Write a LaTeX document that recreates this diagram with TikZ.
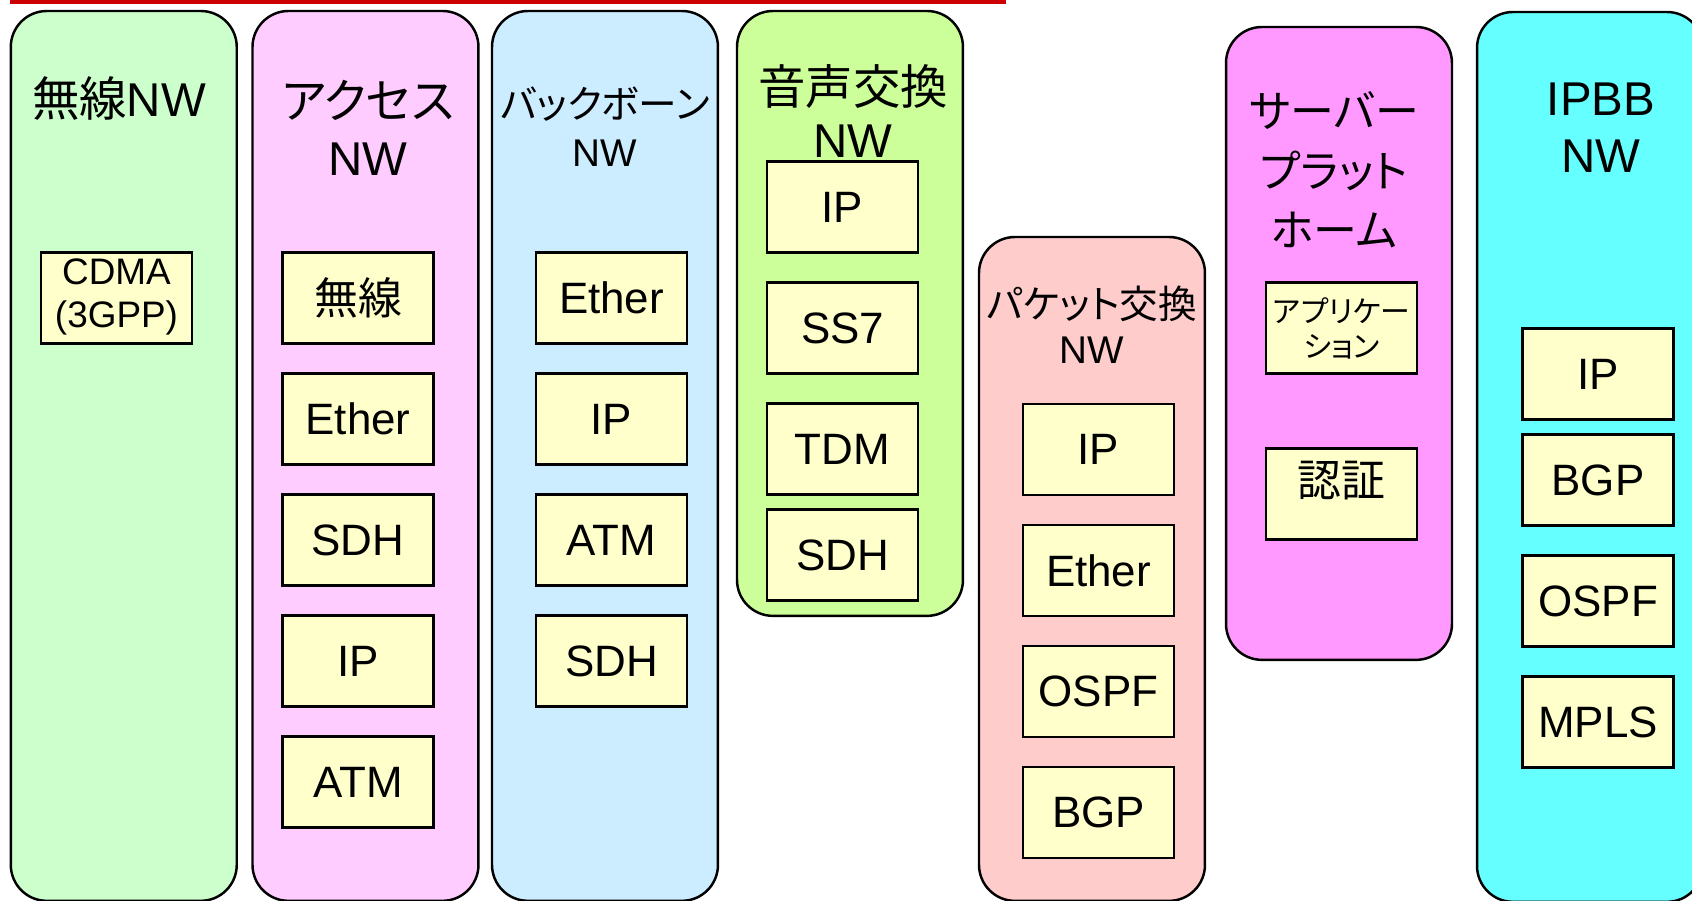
\documentclass[tikz,border=0pt]{standalone}
\usepackage{fontspec}
\setmainfont{Liberation Sans}
\newfontfamily\jp[RawFeature=+palt]{Noto Sans CJK JP}
\usetikzlibrary{positioning}

\definecolor{cRed}{HTML}{CC0000}
\definecolor{cBox}{HTML}{FFFFCC}
\definecolor{cWireless}{HTML}{CCFFCC}
\definecolor{cAccess}{HTML}{FFCCFF}
\definecolor{cBackbone}{HTML}{CCECFF}
\definecolor{cVoice}{HTML}{CCFF99}
\definecolor{cPacket}{HTML}{FFCCCC}
\definecolor{cServer}{HTML}{FF99FF}
\definecolor{cIpbb}{HTML}{66FFFF}

\begin{document}
\begin{tikzpicture}[
    x=0.02cm, y=-0.02cm,
    node distance=0.6cm,
    col/.style={draw=black, line width=1.4pt, rounded corners=0.72cm, minimum width=4.52cm, anchor=north west, inner sep=0pt, outer sep=0pt},
    lyr/.style={draw=black, line width=1.4pt, fill=cBox, minimum width=3.02cm, minimum height=1.82cm, inner sep=0pt, outer sep=0pt, align=center, font=\fontsize{25}{30}\selectfont},
    ttl/.style={align=center, inner sep=0pt, font=\fontsize{27}{32.4}\selectfont}
]
    \useasboundingbox (0,0) rectangle (1692,901);
    \fill[cRed] (10,0) rectangle (1006,4.5);

    % Columns
    \node (wl) [col, fill=cWireless, minimum height=17.8cm] at (10.8,11) {};
    \node (acc) [col, fill=cAccess, minimum height=17.8cm] at (252.5,11) {};
    \node (bb) [col, fill=cBackbone, minimum height=17.8cm] at (492,11) {};
    \node (voice) [col, fill=cVoice, minimum height=12.1cm] at (737,11) {};
    \node (pkt) [col, fill=cPacket, minimum height=13.28cm] at (979,237) {};
    \node (srv) [col, fill=cServer, minimum height=12.66cm] at (1226,27) {};
    \node (ipbb) [col, fill=cIpbb, minimum height=17.8cm] at (1477,12) {};

    % Titles
    \node (wlT) [ttl] at (119,99) {{\jp 無線}NW};
    \node (accT) [ttl] at (368,128) {{\jp アクセス}\\NW};
    \node (bbT) [ttl, font=\fontsize{22}{27.5}\selectfont] at (605,127) {{\jp バックボーン}\\NW};
    \node (voiceT) [ttl, font=\fontsize{27}{30.6}\selectfont] at (853,111) {{\jp 音声交換}\\NW};
    \node (pktT) [ttl, font=\fontsize{22}{25.8}\selectfont] at (1092,325) {{\jp パケット交換}\\NW};
    \node (srvT) [ttl, font=\fontsize{25}{34}\selectfont] at (1334,170) {{\jp サーバー}\\{\jp プラット}\\{\jp ホーム}};
    \node (ipbbT) [ttl] at (1601,128) {IPBB\\NW};

    % Wireless
    \node (cdma) [lyr, font=\fontsize{21}{24.4}\selectfont, text depth=0.2cm] at (116.5,298) {CDMA\\(3GPP)};

    % Access
    \node (acc1) [lyr] at (358,298) {\jp 無線};
    \node (acc2) [lyr, below=of acc1] {Ether};
    \node (acc3) [lyr, below=of acc2] {SDH};
    \node (acc4) [lyr, below=of acc3] {IP};
    \node (acc5) [lyr, below=of acc4] {ATM};

    % Backbone
    \node (bb1) [lyr] at (611.5,298) {Ether};
    \node (bb2) [lyr, below=of bb1] {IP};
    \node (bb3) [lyr, below=of bb2] {ATM};
    \node (bb4) [lyr, below=of bb3] {SDH};

    % Voice switching
    \node (voice1) [lyr] at (842.5,207) {IP};
    \node (voice2) [lyr, below=of voice1] {SS7};
    \node (voice3) [lyr, below=of voice2] {TDM};
    \node (voice4) [lyr, below=0.3cm of voice3] {SDH};

    % Packet switching
    \node (pkt1) [lyr] at (1098.5,449.5) {IP};
    \node (pkt2) [lyr, below=of pkt1] {Ether};
    \node (pkt3) [lyr, below=of pkt2] {OSPF};
    \node (pkt4) [lyr, below=of pkt3] {BGP};

    % Server platform
    \node (app) [lyr, font=\fontsize{17}{20}\selectfont] at (1341.5,328) {{\jp アプリケー}\\{\jp ション}};
    \node (auth) [lyr, below=1.5cm of app, text depth=0.62cm] {\jp 認証};

    % IPBB
    \node (ipbb1) [lyr] at (1598,374) {IP};
    \node (ipbb2) [lyr, below=0.3cm of ipbb1] {BGP};
    \node (ipbb3) [lyr, below=of ipbb2] {OSPF};
    \node (ipbb4) [lyr, below=of ipbb3] {MPLS};
\end{tikzpicture}
\end{document}
